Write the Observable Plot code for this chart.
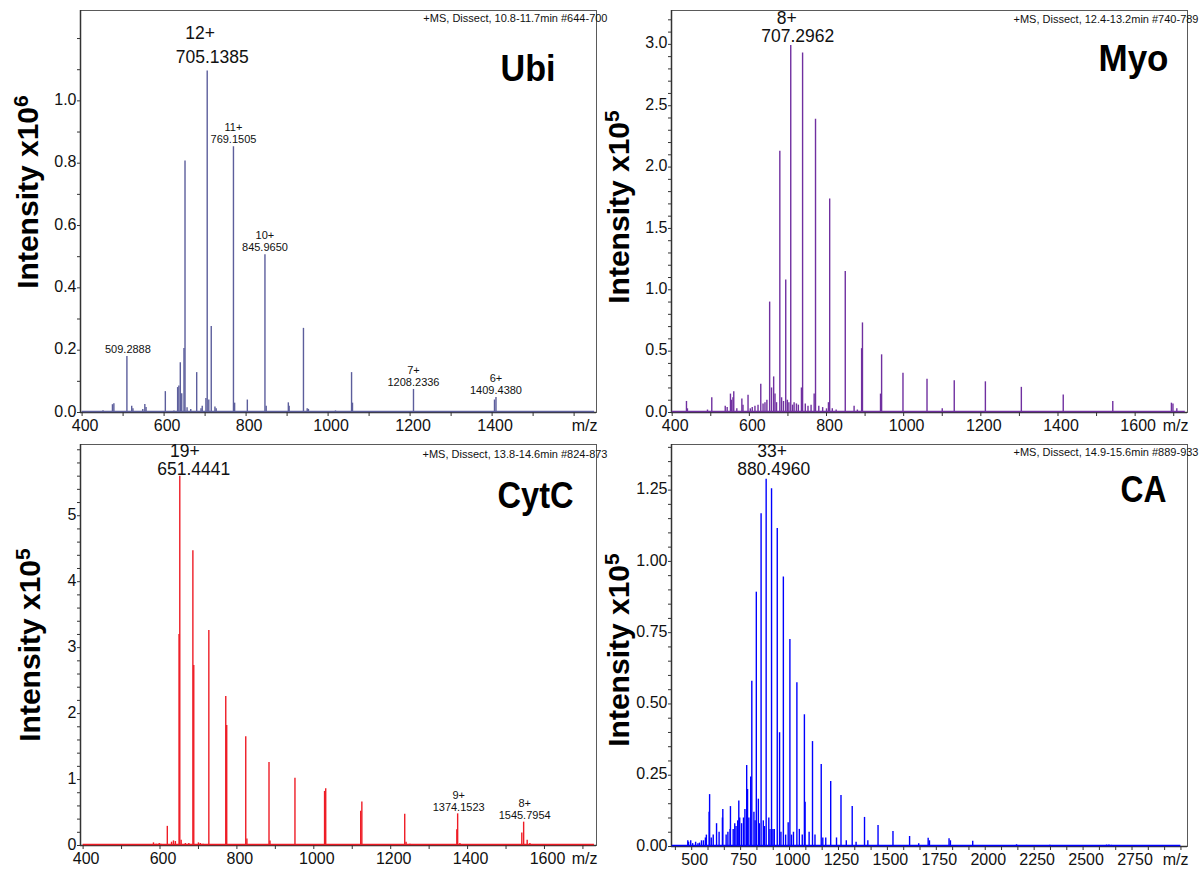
<!DOCTYPE html>
<html>
<head>
<meta charset="utf-8">
<script src="https://cdn.jsdelivr.net/npm/d3@7"></script>
<script src="https://cdn.jsdelivr.net/npm/@observablehq/plot@0.6"></script>
<style>
  body { margin: 0; background: #fff; }
  #fig { position: relative; width: 1199px; height: 872px; overflow: hidden; background: #fff;
         font-family: "Liberation Sans", Arial, sans-serif; }
  .panel { position: absolute; }
  .ylab { position: absolute; font-weight: bold; font-size: 30px; white-space: nowrap; line-height: 1;
          color: #000; transform: translate(-50%, -50%) rotate(-90deg); }
  .ylab sup { font-size: 0.7em; vertical-align: 0.5em; line-height: 0; }
</style>
</head>
<body>
<div id="fig"></div>
<script>
// ---------- Ubiquitin (intensity x10^6) ----------
const ubiMz = [451, 474, 477.5, 509.2888, 521, 524, 548, 553, 556, 603, 624, 633, 636, 639.5, 643, 648.5, 651.0,
  656, 665, 679.5, 690, 693, 702, 705.1385, 709, 715, 724, 727, 769.1505, 772, 803, 845.9650, 849, 903, 905,
  939.9, 949, 952, 1018, 1057.2, 1059.5, 1208.2336, 1405.8, 1409.4380];
const ubiIntensity = [0.006, 0.025, 0.028, 0.18, 0.02, 0.012, 0.01, 0.026, 0.016, 0.067, 0.005, 0.08, 0.085, 0.16, 0.06, 0.205, 0.807,
  0.015, 0.01, 0.128, 0.012, 0.02, 0.045, 1.096, 0.04, 0.276, 0.018, 0.012, 0.853, 0.03, 0.04, 0.506, 0.02, 0.031, 0.02,
  0.27, 0.012, 0.01, 0.005, 0.128, 0.03, 0.074, 0.04, 0.048];
const ubiLabelMz = [509.2888, 705.1385, 769.1505, 845.9650, 1208.2336, 1409.4380];
const ubiLabelCharge = ["", "12+", "11+", "10+", "7+", "6+"];
const ubiXLabels = [400, 600, 800, 1000, 1200, 1400];
const ubiXTicks = [400, 500, 600, 700, 800, 900, 1000, 1100, 1200, 1300, 1400, 1500, 1600];
const ubiYLabels = [0, 0.2, 0.4, 0.6, 0.8, 1.0];
const ubiYTicks = [0, 0.1, 0.2, 0.3, 0.4, 0.5, 0.6, 0.7, 0.8, 0.9, 1.0, 1.1, 1.2];
const ubiScan = [400, 1650];

// ---------- Myoglobin (intensity x10^5) ----------
const myoMz = [437, 439.5, 491.5, 502.6, 537.5, 542.5, 551, 553.5, 557.5, 559.6, 567.5, 580.6, 583.5, 596.6, 602.5, 607.5,
  614.5, 622.5, 629.6, 635.5, 640.5, 645.5, 652.6, 657.5, 663, 666.5, 670.5, 679, 683.5, 688.5, 694.3, 698.5, 702.5,
  707.2962, 712, 716, 722, 727, 735, 738, 745, 752, 760, 768, 771.5, 780, 790, 800, 805, 808.2, 815, 825, 848.6,
  871.5, 880, 891, 893.2, 940, 942.8, 998.2, 1060.5, 1100, 1131.1, 1211.8, 1305, 1413.6, 1542, 1694, 1698, 1708];
const myoIntensity = [0.09, 0.03, 0.02, 0.12, 0.05, 0.04, 0.15, 0.1, 0.12, 0.17, 0.03, 0.11, 0.06, 0.14, 0.03, 0.04,
  0.05, 0.06, 0.23, 0.07, 0.08, 0.1, 0.9, 0.2, 0.29, 0.15, 0.08, 2.13, 0.12, 0.09, 1.08, 0.1, 0.08,
  2.99, 0.06, 0.08, 0.07, 0.06, 0.2, 2.93, 0.07, 0.05, 0.06, 0.15, 2.39, 0.05, 0.04, 0.03, 0.08, 1.74, 0.03, 0.02, 1.15,
  0.05, 0.02, 0.52, 0.73, 0.15, 0.47, 0.32, 0.27, 0.03, 0.258, 0.25, 0.205, 0.143, 0.09, 0.076, 0.07, 0.03];
const myoLabelMz = [707.2962];
const myoLabelCharge = ["8+"];
const myoXLabels = [400, 600, 800, 1000, 1200, 1400, 1600];
const myoXTicks = [400, 500, 600, 700, 800, 900, 1000, 1100, 1200, 1300, 1400, 1500, 1600, 1700];
const myoYLabels = [0, 0.5, 1.0, 1.5, 2.0, 2.5, 3.0];
const myoYTicks = d3.range(0, 33).map(k => k / 10);
const myoScan = [400, 1730];

// ---------- Cytochrome c (intensity x10^5) ----------
const cytMz = [583, 590, 598, 602, 619, 630, 635, 640, 649.5, 651.4441, 655, 666, 675, 685.5, 687.8, 700, 705, 712,
  727, 771, 773.5, 823, 826, 883.5, 886, 951, 1028, 1031, 1122, 1125, 1236.5, 1240, 1250, 1372, 1374.1523, 1380,
  1541, 1545.7954, 1555, 1562];
const cytIntensity = [0.04, 0.02, 0.03, 0.02, 0.29, 0.05, 0.07, 0.06, 3.2, 5.6, 0.08, 0.03, 0.03, 4.47, 2.73, 0.04, 0.03, 0.02,
  3.26, 2.26, 1.82, 1.65, 0.1, 1.26, 0.07, 1.02, 0.82, 0.86, 0.52, 0.66, 0.475, 0.05, 0.02, 0.24, 0.48, 0.03,
  0.19, 0.354, 0.08, 0.03];
const cytLabelMz = [651.4441, 1374.1523, 1545.7954];
const cytLabelCharge = ["19+", "9+", "8+"];
const cytXLabels = [400, 600, 800, 1000, 1200, 1400, 1600];
const cytXTicks = [400, 500, 600, 700, 800, 900, 1000, 1100, 1200, 1300, 1400, 1500, 1600, 1700];
const cytYLabels = [0, 1, 2, 3, 4, 5];
const cytYTicks = d3.range(0, 31).map(k => k / 5);
const cytScan = [400, 1730];

// ---------- Carbonic anhydrase (intensity x10^5) ----------
const caMz = [480, 484, 495, 505, 520, 532, 540, 550, 560, 570, 575, 589, 591.5, 600, 610, 627, 640, 657, 659, 676,
  685, 696, 698, 712, 720, 726.6, 735, 740.7, 745.2, 755, 764.8, 772, 781, 785.4, 792, 801.6, 807.2, 818, 824,
  830.2, 840.6, 846, 854.6, 866, 872, 880.4960, 894, 900, 908.0, 915, 922, 937.2, 949, 956, 968.4, 980, 993,
  1001.8, 1010, 1020, 1037.5, 1050, 1065, 1075.9, 1079.5, 1100, 1117.3, 1130, 1161.9, 1170, 1185, 1210.3, 1240,
  1262.9, 1290, 1320.2, 1340, 1383.1, 1400, 1452.2, 1528.5, 1613.4, 1660, 1708.3, 1715, 1815, 1822, 1936,
  2160, 2330, 2620, 2632, 2645];
const caIntensity = [0.02, 0.015, 0.02, 0.01, 0.015, 0.01, 0.012, 0.02, 0.02, 0.03, 0.04, 0.12, 0.182, 0.03, 0.04, 0.08, 0.05, 0.1, 0.13, 0.04,
  0.05, 0.06, 0.14, 0.06, 0.08, 0.07, 0.09, 0.16, 0.1, 0.08, 0.1, 0.13, 0.284, 0.2, 0.1, 0.244, 0.58, 0.12, 0.09,
  0.892, 0.166, 0.08, 1.167, 0.09, 0.07, 1.288, 0.1, 0.06, 1.255, 0.06, 0.06, 1.115, 0.399, 0.05, 0.945, 0.04, 0.083,
  0.726, 0.04, 0.05, 0.574, 0.06, 0.04, 0.462, 0.155, 0.05, 0.368, 0.04, 0.288, 0.03, 0.03, 0.228, 0.03,
  0.179, 0.02, 0.14, 0.015, 0.102, 0.02, 0.074, 0.053, 0.035, 0.01, 0.029, 0.02, 0.027, 0.02, 0.018,
  0.006, 0.004, 0.005, 0.005, 0.004];
const caLabelMz = [880.4960];
const caLabelCharge = ["33+"];
const caXLabels = [500, 750, 1000, 1250, 1500, 1750, 2000, 2250, 2500, 2750];
const caXTicks = d3.range(5, 37).map(k => k * 250 / 3);
const caYLabels = [0, 0.25, 0.5, 0.75, 1.0, 1.25];
const caYTicks = d3.range(0, 29).map(k => k / 20);
const caScan = [400, 3000];

// ---------- panel layout and styling ----------
const big = 17.5, small = 11;
const panels = [
  {
    mz: ubiMz, intensity: ubiIntensity, labelMz: ubiLabelMz, labelCharge: ubiLabelCharge,
    xLabels: ubiXLabels, xTicks: ubiXTicks, yLabels: ubiYLabels, yTicks: ubiYTicks, scan: ubiScan,
    title: "Ubi", titleWidth: 55, header: "+MS, Dissect, 10.8-11.7min #644-700", exponent: "6",
    color: "#5c5e9c", yFormat: d => d.toFixed(1),
    left: 0, top: 0, width: 600, height: 436,
    margin: {top: 10, right: 4, bottom: 24, left: 80},
    xDomain: [396.1, 1654.6], yDomain: [0, 1.29],
    titleDx: -41, titleDy: 59, headerDx: 11, headerDy: 8,
    ylab: [28, 192],
    labelStyle: [
      {size: small, vDx: 1, vDy: -7, cDx: 0, cDy: -19},
      {size: big, vDx: 5, vDy: -14, cDx: -7, cDy: -38},
      {size: small, vDx: 0, vDy: -7, cDx: 0, cDy: -19},
      {size: small, vDx: 0, vDy: -7, cDx: 0, cDy: -19},
      {size: small, vDx: 0, vDy: -7, cDx: 0, cDy: -19},
      {size: small, vDx: 0, vDy: -7, cDx: 0, cDy: -19}
    ]
  },
  {
    mz: myoMz, intensity: myoIntensity, labelMz: myoLabelMz, labelCharge: myoLabelCharge,
    xLabels: myoXLabels, xTicks: myoXTicks, yLabels: myoYLabels, yTicks: myoYTicks, scan: myoScan,
    title: "Myo", titleWidth: 70, header: "+MS, Dissect, 12.4-13.2min #740-789", exponent: "5",
    color: "#7030a0", yFormat: d => d.toFixed(1),
    left: 600, top: 0, width: 599, height: 436,
    margin: {top: 10, right: 12, bottom: 24, left: 71},
    xDomain: [398.2, 1735.7], yDomain: [0, 3.276],
    titleDx: -19, titleDy: 49, headerDx: 11, headerDy: 8.5,
    ylab: [619, 207],
    labelStyle: [{size: big, vDx: 7, vDy: -9, cDx: -4, cDy: -27}]
  },
  {
    mz: cytMz, intensity: cytIntensity, labelMz: cytLabelMz, labelCharge: cytLabelCharge,
    xLabels: cytXLabels, xTicks: cytXTicks, yLabels: cytYLabels, yTicks: cytYTicks, scan: cytScan,
    title: "CytC", titleWidth: 76, header: "+MS, Dissect, 13.8-14.6min #824-873", exponent: "5",
    color: "#ee1c25", yFormat: d => d.toFixed(0),
    left: 0, top: 436, width: 600, height: 436,
    margin: {top: 8, right: 4, bottom: 27, left: 80},
    xDomain: [393.2, 1735.3], yDomain: [0, 6.08],
    titleDx: -23, titleDy: 52, headerDx: 11, headerDy: 9.5,
    ylab: [30, 645],
    labelStyle: [
      {size: big, vDx: 14, vDy: -7, cDx: 5, cDy: -25},
      {size: small, vDx: 1, vDy: -6, cDx: 1, cDy: -18},
      {size: small, vDx: 1, vDy: -6.5, cDx: 1, cDy: -18.5}
    ]
  },
  {
    mz: caMz, intensity: caIntensity, labelMz: caLabelMz, labelCharge: caLabelCharge,
    xLabels: caXLabels, xTicks: caXTicks, yLabels: caYLabels, yTicks: caYTicks, scan: caScan,
    title: "CA", titleWidth: 46, header: "+MS, Dissect, 14.9-15.6min #889-933", exponent: "5",
    color: "#0000ff", yFormat: d => d.toFixed(2),
    left: 600, top: 436, width: 599, height: 436,
    margin: {top: 8, right: 12, bottom: 26, left: 71},
    xDomain: [396.8, 3033.5], yDomain: [0, 1.41],
    titleDx: -21, titleDy: 46, headerDx: 11, headerDy: 8,
    ylab: [619, 650],
    labelStyle: [{size: big, vDx: 7.5, vDy: -10, cDx: 6, cDy: -28}]
  }
];

const fig = document.getElementById("fig");
const tickFont = 16;

for (const p of panels) {
  const peaks = p.mz.map((mz, k) => ({mz, v: p.intensity[k]}));
  const labels = p.labelMz.map((mz, k) => ({
    mz, v: p.intensity[p.mz.indexOf(mz)], charge: p.labelCharge[k], text: mz.toFixed(4), ...p.labelStyle[k]
  }));

  const chart = Plot.plot({
    width: p.width,
    height: p.height,
    marginTop: p.margin.top,
    marginRight: p.margin.right,
    marginBottom: p.margin.bottom,
    marginLeft: p.margin.left,
    style: {fontFamily: "'Liberation Sans', Arial, sans-serif", fontSize: "16px", overflow: "visible",
            background: "transparent", color: "#222"},
    x: {domain: p.xDomain},
    y: {domain: p.yDomain},
    marks: [
      Plot.frame({stroke: "#5a5a5a", strokeWidth: 1}),
      // axis lines
      Plot.ruleY([0], {stroke: "#333", strokeWidth: 1.5}),
      Plot.ruleX([p.xDomain[0]], {stroke: "#333", strokeWidth: 1.5}),
      // spectrum baseline and peaks
      Plot.ruleY([0], {x1: p.scan[0], x2: p.scan[1], stroke: p.color, strokeWidth: 1.4, dy: -1}),
      Plot.ruleX(peaks, {x: "mz", y1: 0, y2: "v", stroke: p.color, strokeWidth: 1.4}),
      // tick marks (all) and tick labels (text only, nudged off the axis corner)
      Plot.axisX({ticks: p.xTicks, tickSize: 4, tickFormat: () => "", label: null, stroke: "#333"}),
      Plot.axisX({ticks: p.xLabels, tickSize: 0, tickPadding: 7, tickFormat: d => String(d), dx: 3,
                  label: null, fontSize: tickFont, fill: "#111"}),
      Plot.axisY({ticks: p.yTicks, tickSize: 3, tickFormat: () => "", label: null, stroke: "#333"}),
      Plot.axisY({ticks: p.yLabels, tickSize: 0, tickPadding: 4, tickFormat: p.yFormat, dy: -1,
                  label: null, fontSize: tickFont, fill: "#111"}),
      Plot.text(["m/z"], {text: d => d, frameAnchor: "bottom-right", textAnchor: "end", lineAnchor: "top",
                          dy: 7, dx: 1, fontSize: tickFont, fill: "#111"}),
      // acquisition header and protein name
      Plot.text([p.header], {text: d => d, frameAnchor: "top-right", textAnchor: "end", lineAnchor: "middle",
                             dx: p.headerDx, dy: p.headerDy, fontSize: 11, fill: "#111"}),
      Plot.text([p.title], {text: d => d, frameAnchor: "top-right", textAnchor: "end", lineAnchor: "middle",
                            dx: p.titleDx, dy: p.titleDy, fontSize: 37, fontWeight: "bold",
                            fill: "#000", className: "protein-name"}),
      // peak annotations
      ...labels.map(l => Plot.text([l], {x: "mz", y: "v", text: "text", lineAnchor: "middle",
                                          dx: l.vDx, dy: l.vDy, fontSize: l.size, fill: "#111"})),
      ...labels.filter(l => l.charge).map(l => Plot.text([l], {x: "mz", y: "v", text: "charge", lineAnchor: "middle",
                                          dx: l.cDx, dy: l.cDy, fontSize: l.size, fill: "#111"}))
    ]
  });

  // narrow the protein name to a condensed bold look
  d3.select(chart).selectAll("text")
    .filter(function() { return this.textContent === p.title; })
    .attr("textLength", p.titleWidth)
    .attr("lengthAdjust", "spacingAndGlyphs");

  chart.classList.add("panel");
  chart.style.left = p.left + "px";
  chart.style.top = p.top + "px";
  fig.appendChild(chart);

  const yl = document.createElement("div");
  yl.className = "ylab";
  yl.style.left = p.ylab[0] + "px";
  yl.style.top = p.ylab[1] + "px";
  yl.innerHTML = "Intensity x10<sup>" + p.exponent + "</sup>";
  fig.appendChild(yl);
}
</script>
</body>
</html>
